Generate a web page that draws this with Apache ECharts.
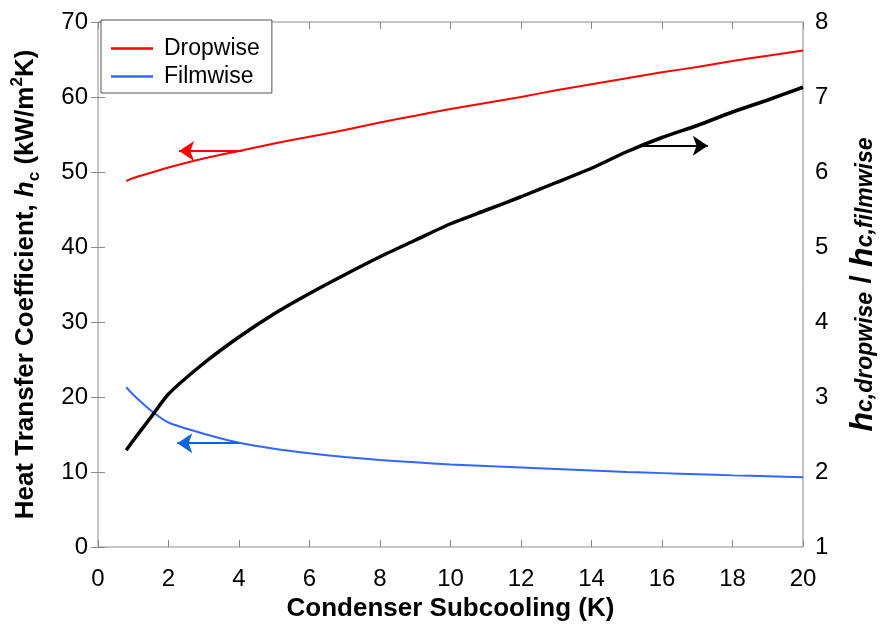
<!DOCTYPE html>
<html>
<head>
<meta charset="utf-8">
<script src="https://cdn.jsdelivr.net/npm/echarts@6/dist/echarts.min.js"></script>
<style>
  html, body { margin: 0; padding: 0; background: #fff; }
  #chart { width: 881px; height: 626px; }
</style>
</head>
<body>
<div id="chart"></div>
<script>
// subcooling values (K)
const subcooling = [0.8, 1, 1.5, 2, 3, 4, 5, 6, 7, 8, 9, 10, 11, 12, 13, 14, 15, 16, 17, 18, 19, 20]
// heat transfer coefficient (kW/m2K)
const dropwise = [48.8, 49.2, 49.9, 50.6, 51.8, 52.8, 53.8, 54.7, 55.6, 56.6, 57.5, 58.4, 59.2, 60.0, 60.9, 61.7, 62.5, 63.3, 64.0, 64.8, 65.5, 66.2]
const filmwise = [21.3, 20.3, 18.2, 16.6, 15.1, 13.9, 13.1, 12.5, 12.0, 11.6, 11.3, 11.0, 10.8, 10.6, 10.4, 10.2, 10.0, 9.85, 9.7, 9.55, 9.42, 9.3]
// ratio dropwise / filmwise (right axis)
const ratio = [2.29, 2.42, 2.73, 3.04, 3.45, 3.80, 4.11, 4.38, 4.63, 4.87, 5.09, 5.31, 5.49, 5.67, 5.86, 6.05, 6.27, 6.46, 6.62, 6.80, 6.96, 7.13]

// arrows pointing at the matching axis: [fromX, toX, y]
const arrowDrop = [4.1, 2.3, 52.8]
const arrowFilm = [4.0, 2.25, 13.85]
const arrowRatio = [15.4, 17.3, 6.35]

const pairs = (ys) => subcooling.map((x, i) => [x, ys[i]])
const arrow = (a, color) => ({
  silent: true,
  symbol: ['none', 'arrow'],
  symbolSize: 15,
  label: { show: false },
  emphasis: { disabled: true },
  itemStyle: { color: color },
  lineStyle: { color: color, width: 2, type: 'solid' },
  data: [[{ coord: [a[0], a[2]] }, { coord: [a[1], a[2]] }]]
})

const font = "'Liberation Sans', Arial, sans-serif"
const gray = '#8a8a8a'

const chart = echarts.init(document.getElementById('chart'))
chart.setOption({
  animation: false,
  textStyle: { fontFamily: font },
  grid: {
    left: 98,
    right: 78,
    top: 22,
    bottom: 79,
    outerBoundsMode: 'none',
    containLabel: false,
    show: true,
    borderColor: gray,
    borderWidth: 1
  },
  legend: {
    data: ['Dropwise', 'Filmwise'],
    orient: 'vertical',
    left: 101,
    top: 20,
    padding: [17, 12, 5, 10],
    itemGap: 5,
    itemWidth: 42,
    itemHeight: 2.5,
    icon: 'rect',
    borderColor: '#555',
    borderWidth: 1,
    backgroundColor: '#fff',
    textStyle: { fontFamily: font, fontSize: 23, color: '#000', padding: [0, 0, 0, 6] }
  },
  xAxis: [
    {
      type: 'value',
      min: 0,
      max: 20,
      interval: 2,
      name: 'Condenser Subcooling (K)',
      nameLocation: 'middle',
      nameGap: 48,
      nameTextStyle: { fontFamily: font, fontSize: 26, fontWeight: 'bold', color: '#000' },
      axisLine: { show: false },
      axisTick: { show: true, inside: true, length: 7, lineStyle: { color: gray } },
      axisLabel: { fontSize: 24, color: '#000', margin: 20 },
      splitLine: { show: false }
    },
    {
      type: 'value',
      position: 'top',
      min: 0,
      max: 20,
      interval: 2,
      axisLine: { show: false },
      axisTick: { show: true, inside: true, length: 7, lineStyle: { color: gray } },
      axisLabel: { show: false },
      splitLine: { show: false }
    }
  ],
  yAxis: [
    {
      type: 'value',
      min: 0,
      max: 70,
      interval: 10,
      name: 'Heat Transfer Coefficient, {i|h}{sub|c} (kW/m{sup|2}K)',
      nameLocation: 'middle',
      nameRotate: 90,
      nameGap: 55,
      nameTextStyle: {
        fontFamily: font,
        fontSize: 26,
        fontWeight: 'bold',
        color: '#000',
        lineHeight: 34,
        rich: {
          i: { fontFamily: font, fontSize: 26, fontWeight: 'bold', fontStyle: 'italic', lineHeight: 34 },
          sub: { fontFamily: font, fontSize: 17, fontWeight: 'bold', verticalAlign: 'bottom', lineHeight: 16 },
          sup: { fontFamily: font, fontSize: 17, fontWeight: 'bold', verticalAlign: 'top', lineHeight: 16 }
        }
      },
      axisLine: { show: false },
      axisTick: { show: true, inside: true, length: 7, lineStyle: { color: gray } },
      axisLabel: { fontSize: 24, color: '#000', margin: 10 },
      splitLine: { show: false }
    },
    {
      type: 'value',
      min: 1,
      max: 8,
      interval: 1,
      position: 'right',
      name: '{i|h}{sub|c,dropwise}{b| / }{i|h}{sub|c,filmwise}',
      nameLocation: 'middle',
      nameRotate: 90,
      nameGap: 46,
      nameTextStyle: {
        fontFamily: font,
        fontSize: 30,
        fontWeight: 'bold',
        color: '#000',
        lineHeight: 28,
        rich: {
          i: { fontFamily: font, fontSize: 32, fontWeight: 'bold', fontStyle: 'italic', lineHeight: 28 },
          b: { fontFamily: font, fontSize: 30, fontWeight: 'bold', lineHeight: 28 },
          sub: { fontFamily: font, fontSize: 23, fontWeight: 'bold', fontStyle: 'italic', verticalAlign: 'bottom', lineHeight: 16 }
        }
      },
      axisLine: { show: false },
      axisTick: { show: true, inside: true, length: 7, lineStyle: { color: gray } },
      axisLabel: { fontSize: 24, color: '#000', margin: 12 },
      splitLine: { show: false }
    }
  ],
  series: [
    {
      name: 'Dropwise',
      type: 'line',
      yAxisIndex: 0,
      data: pairs(dropwise),
      symbol: 'none',
      smooth: 0.2,
      color: '#ff0000',
      lineStyle: { color: '#ff0000', width: 2 },
      markLine: arrow(arrowDrop, '#ff0000')
    },
    {
      name: 'Filmwise',
      type: 'line',
      yAxisIndex: 0,
      data: pairs(filmwise),
      symbol: 'none',
      smooth: 0.2,
      color: '#3366ff',
      lineStyle: { color: '#3366ff', width: 2 },
      markLine: arrow(arrowFilm, '#0a64dc')
    },
    {
      name: 'Ratio',
      type: 'line',
      yAxisIndex: 1,
      data: pairs(ratio),
      symbol: 'none',
      smooth: 0.2,
      color: '#000',
      lineStyle: { color: '#000', width: 3.5 },
      markLine: arrow(arrowRatio, '#000')
    }
  ]
})
</script>
</body>
</html>
